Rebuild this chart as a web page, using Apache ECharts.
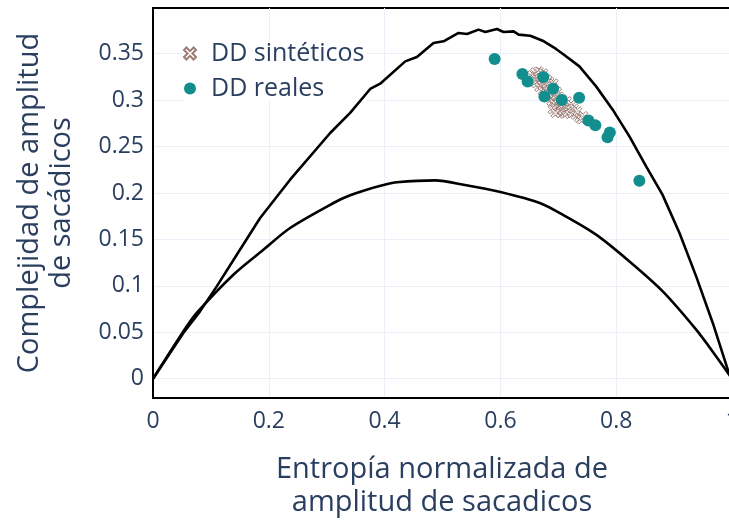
<!DOCTYPE html>
<html>
<head>
<meta charset="utf-8">
<script src="https://cdn.jsdelivr.net/npm/echarts@6/dist/echarts.min.js"></script>
<style>
  html, body { margin: 0; padding: 0; background: #fff; }
  #chart { width: 729px; height: 522px; }
</style>
</head>
<body>
<div id="chart"></div>
<script>
// Upper bound of the complexity-entropy plane (max complexity)
const upperCurve = [
  [0, 0], [0.0524, 0.0492], [0.0812, 0.0725], [0.1101, 0.0994], [0.1447, 0.1335],
  [0.1850, 0.1731], [0.2368, 0.2143], [0.3060, 0.2646], [0.3405, 0.2862],
  [0.3751, 0.3120], [0.3924, 0.3177], [0.4356, 0.3417], [0.4558, 0.3465],
  [0.4845, 0.3616], [0.5018, 0.3633], [0.5277, 0.3723], [0.5423, 0.3712],
  [0.5623, 0.3759], [0.5739, 0.3734], [0.5941, 0.3766], [0.6055, 0.3734],
  [0.6228, 0.3740], [0.6315, 0.3705], [0.6517, 0.3694], [0.6730, 0.3640],
  [0.6961, 0.3551], [0.7075, 0.3500], [0.7364, 0.3363], [0.7653, 0.3148],
  [0.7940, 0.2897], [0.8228, 0.2610], [0.8517, 0.2286], [0.8799, 0.1982],
  [0.9093, 0.1569], [0.9381, 0.1102], [0.9668, 0.0600], [0.9927, 0.0097], [1, 0]
];

// Lower bound (min complexity)
const lowerCurve = [
  [0, 0], [0.0524, 0.0509], [0.0755, 0.0708], [0.1388, 0.1120], [0.1907, 0.1389],
  [0.2368, 0.1623], [0.3117, 0.1892], [0.3405, 0.1975], [0.3635, 0.2025],
  [0.3980, 0.2085], [0.4213, 0.2115], [0.4875, 0.2136], [0.5364, 0.2089],
  [0.6000, 0.2010], [0.6690, 0.1890], [0.7075, 0.1766], [0.7653, 0.1551],
  [0.8228, 0.1263], [0.8804, 0.0940], [0.9381, 0.0528], [0.9727, 0.0240], [1, 0]
];

// Synthetic signals (entropy, complexity)
const syntheticPoints = [
  [0.655, 0.327], [0.658, 0.322], [0.660, 0.330], [0.662, 0.318], [0.664, 0.325],
  [0.666, 0.331], [0.668, 0.320], [0.667, 0.314], [0.670, 0.327], [0.671, 0.322],
  [0.672, 0.316], [0.673, 0.310], [0.674, 0.329], [0.675, 0.319], [0.677, 0.324],
  [0.678, 0.313], [0.679, 0.307], [0.680, 0.318], [0.681, 0.322], [0.682, 0.310],
  [0.683, 0.303], [0.684, 0.316], [0.685, 0.320], [0.686, 0.306], [0.687, 0.312],
  [0.688, 0.299], [0.689, 0.315], [0.690, 0.308], [0.691, 0.302], [0.692, 0.318],
  [0.693, 0.296], [0.694, 0.311], [0.695, 0.305], [0.696, 0.292], [0.697, 0.300],
  [0.698, 0.309], [0.699, 0.288], [0.700, 0.296], [0.701, 0.304], [0.702, 0.291],
  [0.703, 0.299], [0.704, 0.286], [0.705, 0.294], [0.690, 0.290], [0.695, 0.286],
  [0.707, 0.301], [0.708, 0.289], [0.710, 0.296], [0.711, 0.285], [0.713, 0.292],
  [0.715, 0.299], [0.716, 0.287], [0.718, 0.293], [0.720, 0.290], [0.722, 0.295],
  [0.724, 0.286], [0.727, 0.291], [0.730, 0.284], [0.733, 0.288], [0.736, 0.281],
  [0.740, 0.279], [0.743, 0.283]
];

// Real recordings (entropy, complexity)
const realPoints = [
  [0.590, 0.3443], [0.638, 0.3280], [0.647, 0.3200], [0.674, 0.3250],
  [0.691, 0.3123], [0.676, 0.3040], [0.706, 0.3000], [0.736, 0.3026],
  [0.752, 0.2780], [0.764, 0.2730], [0.789, 0.2650], [0.785, 0.2600],
  [0.840, 0.2132]
];

const xTitle = 'Entropía normalizada de\namplitud de sacadicos';
const yTitle = 'Complejidad de amplitud\nde sacádicos';
const seriesNames = ['DD sintéticos', 'DD reales'];

const FONT = '"Open Sans", "Noto Sans", sans-serif';
const TXT = '#2a3f5f';
const GRID = '#ebf0f8';
const xSymbol = 'path://M2,0 L5,3 L8,0 L10,2 L7,5 L10,8 L8,10 L5,7 L2,10 L0,8 L3,5 L0,2 Z';

const chart = echarts.init(document.getElementById('chart'), null, { renderer: 'canvas' });

chart.setOption({
  backgroundColor: '#fff',
  animation: false,
  grid: {
    left: 153, right: -3, top: 8, bottom: 124,
    outerBoundsMode: 'none', containLabel: false,
    show: true, borderColor: '#000', borderWidth: 2, backgroundColor: '#fff'
  },
  xAxis: {
    type: 'value', min: 0, max: 1, interval: 0.2,
    axisLine: { show: true, onZero: false, lineStyle: { color: '#000', width: 2 } },
    axisTick: { show: false },
    axisLabel: { color: TXT, fontFamily: FONT, fontSize: 23, margin: 12,
      formatter: v => String(+v.toFixed(2)) },
    splitLine: { show: true, showMinLine: false, showMaxLine: false, lineStyle: { color: GRID, width: 1 } }
  },
  yAxis: {
    type: 'value', min: -0.0208, max: 0.3992, minInterval: 0.05, maxInterval: 0.05, splitNumber: 8,
    axisLine: { show: true, onZero: false, lineStyle: { color: '#000', width: 2 } },
    axisTick: { show: false },
    axisLabel: { color: TXT, fontFamily: FONT, fontSize: 23, margin: 9,
      showMinLabel: false, showMaxLabel: false,
      formatter: v => String(+v.toFixed(2)) },
    splitLine: { show: true, showMinLine: false, showMaxLine: false, lineStyle: { color: GRID, width: 1 } }
  },
  legend: {
    orient: 'vertical', left: 183, top: 41, padding: [0, 2, 0, 0],
    backgroundColor: '#fff', itemGap: 10, itemWidth: 32, itemHeight: 12,
    textStyle: { color: TXT, fontFamily: FONT, fontSize: 25, lineHeight: 23 },
    data: [
      { name: seriesNames[0], icon: xSymbol },
      { name: seriesNames[1], icon: 'circle' }
    ]
  },
  series: [
    {
      type: 'line', name: 'upper', data: upperCurve, showSymbol: false, silent: true,
      lineStyle: { color: '#000', width: 2.6 }, z: 5
    },
    {
      type: 'line', name: 'lower', data: lowerCurve, showSymbol: false, silent: true,
      smooth: 0.3,
      lineStyle: { color: '#000', width: 2.6 }, z: 5
    },
    {
      type: 'scatter', name: seriesNames[0], data: syntheticPoints,
      symbol: xSymbol, symbolSize: 9,
      itemStyle: { color: 'rgba(255,255,255,0.5)', borderColor: '#9c7d75', borderWidth: 1, opacity: 1 }, z: 6
    },
    {
      type: 'scatter', name: seriesNames[1], data: realPoints,
      symbol: 'circle', symbolSize: 12,
      itemStyle: { color: '#138e8e', opacity: 1 }, z: 7
    }
  ],
  graphic: [
    {
      type: 'text', x: 442, y: 453,
      style: { text: xTitle, fill: TXT, font: '29px ' + FONT, align: 'center', lineHeight: 33 }
    },
    {
      type: 'text', x: 46, y: 203, rotation: Math.PI / 2,
      style: { text: yTitle, fill: TXT, font: '29px ' + FONT, align: 'center', verticalAlign: 'middle', lineHeight: 32 }
    }
  ]
});
</script>
</body>
</html>
